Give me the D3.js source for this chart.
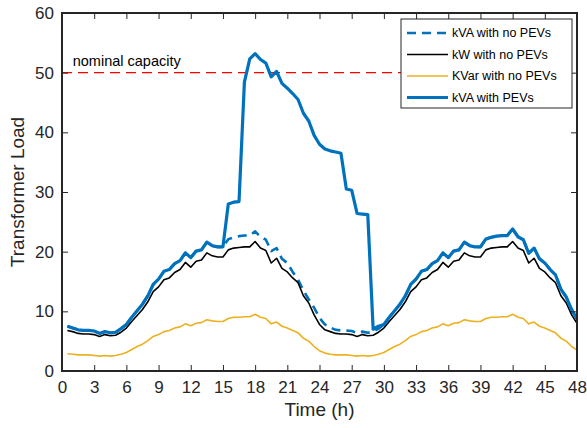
<!DOCTYPE html>
<html>
<head>
<meta charset="utf-8">
<script src="https://cdn.jsdelivr.net/npm/d3@7"></script>
<style>
  body { margin: 0; background: #fff; }
  svg { display: block; font-family: "Liberation Sans", Arial, sans-serif; }
</style>
</head>
<body>
<div id="chart"></div>
<script>
// half-hour samples, 0.5 .. 48 h
var hours = d3.range(1, 97).map(function(i) { return i / 2; });

// kW with no PEVs
var kwNoPev = [6.8,6.6,6.3,6.2,6.2,6.1,5.8,6.1,5.9,6.0, 6.5,7.2,8.3,9.3,10.3,11.6,13.3,14.1,15.3,15.6,
  16.5,17.0,18.2,17.4,18.4,18.6,19.8,19.3,19.1,19.1, 20.3,20.6,20.7,20.8,20.8,21.7,20.6,20.2,18.1,18.9,
  17.2,16.6,15.6,14.8,12.6,11.4,9.4,7.8,
  6.9,6.6,6.3,6.2,6.2,6.1,5.8,6.1,5.9,6.0, 6.5,7.2,8.3,9.3,10.3,11.6,13.3,14.1,15.3,15.6,
  16.5,17.0,18.2,17.4,18.4,18.6,19.8,19.3,19.1,19.1, 20.3,20.6,20.7,20.8,20.8,21.7,20.6,20.2,18.1,18.9,
  17.2,16.6,15.6,14.8,12.6,11.4,9.4,8.0];

// KVar with no PEVs
var kvarNoPev = [2.9,2.8,2.7,2.7,2.7,2.6,2.5,2.6,2.5,2.6, 2.8,3.1,3.6,4.1,4.5,5.1,5.8,6.1,6.6,6.8,
  7.2,7.4,7.9,7.6,8.0,8.1,8.6,8.4,8.3,8.3, 8.8,9.0,9.0,9.1,9.1,9.5,9.0,8.8,7.9,8.2,
  7.5,7.2,6.8,6.4,5.5,5.0,4.1,3.4,
  3.0,2.8,2.7,2.7,2.7,2.6,2.5,2.6,2.5,2.6, 2.8,3.1,3.6,4.1,4.5,5.1,5.8,6.1,6.6,6.8,
  7.2,7.4,7.9,7.6,8.0,8.1,8.6,8.4,8.3,8.3, 8.8,9.0,9.0,9.1,9.1,9.5,9.0,8.8,7.9,8.2,
  7.5,7.2,6.8,6.4,5.5,5.0,4.1,3.5];

// kVA with no PEVs
var kvaNoPev = [7.5,7.2,6.9,6.8,6.8,6.7,6.3,6.6,6.4,6.5, 7.1,7.8,9.0,10.1,11.2,12.6,14.5,15.4,16.7,17.0,
  18.0,18.5,19.8,19.0,20.1,20.3,21.6,21.0,20.8,20.8, 22.1,22.4,22.6,22.7,22.7,23.4,22.5,22.0,20.1,20.6,
  18.8,18.1,16.6,15.3,13.5,12.0,10.6,8.9,
  7.8,7.3,6.9,6.8,6.8,6.7,6.4,6.6,6.4,6.6, 7.1,7.8,9.0,10.1,11.2,12.6,14.5,15.4,16.7,17.0,
  18.0,18.5,19.8,19.0,20.1,20.3,21.6,21.0,20.8,20.8, 22.1,22.4,22.6,22.7,22.7,23.8,22.5,22.0,19.7,20.6,
  18.8,18.1,17.0,16.1,13.7,12.4,10.3,8.7];

// kVA with PEVs
var kvaPev = [7.5,7.2,6.9,6.8,6.8,6.7,6.3,6.6,6.4,6.5, 7.1,7.8,9.0,10.1,11.2,12.6,14.5,15.4,16.7,17.0,
  18.0,18.5,19.8,19.0,20.1,20.3,21.6,21.0,20.8,20.8, 28.0,28.3,28.4,48.4,52.3,53.2,52.2,51.6,49.3,50.2,
  48.2,47.4,46.5,45.5,43.2,41.9,39.5,38.0,
  37.2,36.9,36.7,36.5,30.5,30.3,26.4,26.3,26.2,7.0, 7.5,7.8,9.0,10.1,11.2,12.6,14.5,15.4,16.7,17.0,
  18.0,18.5,19.8,19.0,20.1,20.3,21.6,21.0,20.8,20.8, 22.1,22.4,22.6,22.7,22.7,23.8,22.5,22.0,19.7,20.6,
  18.8,18.1,17.0,16.1,13.7,12.4,10.3,8.7];

var nominalCapacity = 50;
var xTicks = d3.range(0, 49, 3);
var yTicks = [0, 10, 20, 30, 40, 50, 60];

var series = [
  { name: "kVA with no PEVs", values: kvaNoPev, color: "#0072BD", width: 2.6, dash: "9,6" },
  { name: "kW with no PEVs", values: kwNoPev, color: "#000000", width: 1.6, dash: null },
  { name: "KVar with no PEVs", values: kvarNoPev, color: "#EDB120", width: 1.6, dash: null },
  { name: "kVA with PEVs", values: kvaPev, color: "#0072BD", width: 3.2, dash: null }
];

var W = 587, H = 428;
var margin = { top: 13, left: 62, right: 10, bottom: 57 };
var width = W - margin.left - margin.right,
    height = H - margin.top - margin.bottom;

var svg = d3.select("#chart").append("svg")
    .attr("width", W)
    .attr("height", H);

var g = svg.append("g")
    .attr("transform", "translate(" + margin.left + "," + margin.top + ")");

var x = d3.scaleLinear().domain([0, 48]).range([0, width]);
var y = d3.scaleLinear().domain([0, 60]).range([height, 0]);

// nominal capacity line
g.append("line")
    .attr("x1", x(0)).attr("x2", x(33))
    .attr("y1", y(nominalCapacity)).attr("y2", y(nominalCapacity))
    .attr("stroke", "#FF0000")
    .attr("stroke-width", 1.2)
    .attr("stroke-dasharray", "10,6");

g.append("text")
    .attr("x", x(1))
    .attr("y", y(nominalCapacity) - 7)
    .attr("font-size", 14.5)
    .attr("fill", "#000")
    .text("nominal capacity");

// curves
var line = d3.line()
    .x(function(d, i) { return x(hours[i]); })
    .y(function(d) { return y(d); });

series.forEach(function(s) {
  g.append("path")
      .datum(s.values)
      .attr("fill", "none")
      .attr("stroke", s.color)
      .attr("stroke-width", s.width)
      .attr("stroke-linejoin", "round")
      .attr("stroke-dasharray", s.dash)
      .attr("d", line);
});

// axes, ticks inward like matlab
var axisColor = "#262626";
function styleAxis(sel) {
  sel.select(".domain").remove();
  sel.selectAll("line").attr("stroke", axisColor).attr("stroke-width", 1);
  sel.selectAll("text").attr("fill", axisColor).attr("font-size", 17)
     .attr("font-family", "Liberation Sans, Arial, sans-serif");
}

g.append("g")
    .attr("transform", "translate(0," + height + ")")
    .call(d3.axisBottom(x).tickValues(xTicks).tickSize(-6).tickPadding(10))
    .call(styleAxis);
g.append("g")
    .call(d3.axisTop(x).tickValues(xTicks).tickSize(-6).tickFormat(""))
    .call(styleAxis);
g.append("g")
    .call(d3.axisLeft(y).tickValues(yTicks).tickSize(-6).tickPadding(8))
    .call(styleAxis);
g.append("g")
    .attr("transform", "translate(" + width + ",0)")
    .call(d3.axisRight(y).tickValues(yTicks).tickSize(-6).tickFormat(""))
    .call(styleAxis);

g.append("rect")
    .attr("width", width).attr("height", height)
    .attr("fill", "none")
    .attr("stroke", axisColor)
    .attr("stroke-width", 2);

// axis labels
svg.append("text")
    .attr("x", margin.left + width / 2)
    .attr("y", 416)
    .attr("text-anchor", "middle")
    .attr("font-size", 19)
    .attr("fill", axisColor)
    .text("Time (h)");

svg.append("text")
    .attr("transform", "translate(24," + (margin.top + height / 2) + ") rotate(-90)")
    .attr("text-anchor", "middle")
    .attr("font-size", 19)
    .attr("fill", axisColor)
    .text("Transformer Load");

// legend
var legend = svg.append("g").attr("transform", "translate(401,19)");
legend.append("rect")
    .attr("width", 171).attr("height", 89)
    .attr("fill", "#fff")
    .attr("stroke", axisColor)
    .attr("stroke-width", 1);

series.forEach(function(s, i) {
  var ly = 14 + i * 21.5;
  legend.append("line")
      .attr("x1", 6).attr("x2", 47)
      .attr("y1", ly).attr("y2", ly)
      .attr("stroke", s.color)
      .attr("stroke-width", s.width)
      .attr("stroke-dasharray", s.dash);
  legend.append("text")
      .attr("x", 51).attr("y", ly)
      .attr("dy", "0.35em")
      .attr("font-size", 12.5)
      .attr("fill", "#000")
      .text(s.name);
});
</script>
</body>
</html>
